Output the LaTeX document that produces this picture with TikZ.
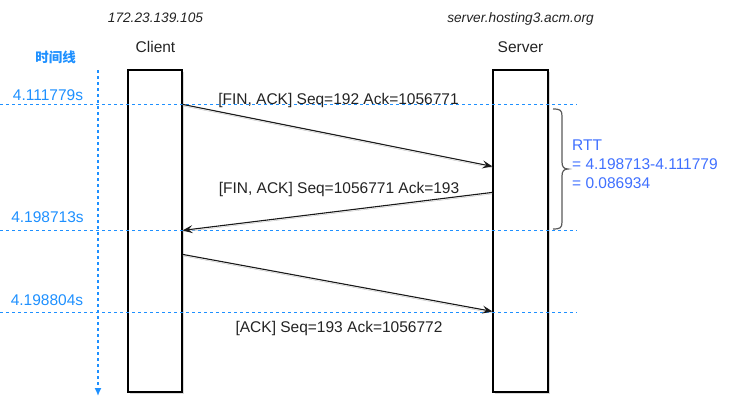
\documentclass[tikz,border=0pt]{standalone}
\usepackage{fontspec}
\setmainfont{Liberation Sans}
\newfontfamily\cjk{Noto Sans CJK SC}
\usetikzlibrary{arrows.meta,shadows}
\definecolor{tblue}{RGB}{30,144,255}
\definecolor{rttblue}{RGB}{64,112,255}
\definecolor{txt}{RGB}{35,35,35}
\begin{document}
\begin{tikzpicture}[x=1pt,y=-1pt,
  font=\fontsize{15.5}{19}\selectfont,
  lifebox/.style={draw=black, line width=1.2pt, fill=white, minimum width=54pt, minimum height=322pt, inner sep=0pt,
    drop shadow={opacity=0.3,shadow xshift=2pt,shadow yshift=-2pt}},
  msg/.style={line width=1.1pt, draw=black!90, -{Stealth[length=10pt,width=8pt,inset=4pt]},
    preaction={draw=black!25,-,transform canvas={yshift=-1.5pt}}},
  tline/.style={draw=tblue, line width=1pt, dash pattern=on 3pt off 3pt},
  lbl/.style={anchor=base, text=txt, inner sep=0pt},
  tlbl/.style={anchor=base, text=tblue, inner sep=0pt},
  rlbl/.style={anchor=base west, text=rttblue, inner sep=0pt},
  host/.style={anchor=base, text=txt, inner sep=0pt, font=\fontsize{13.7}{16}\selectfont\itshape}]
\useasboundingbox (0,0) rectangle (749,408);

% lifeline boxes
\node[lifebox] (client) at (155,231) {};
\node[lifebox, minimum width=55pt] (server) at (520.5,231) {};

% headings
\node[host] (cip) at (155.5,22) {172.23.139.105};
\node[lbl] (cname) at (155.5,52) {Client};
\node[host] (sip) at (520.5,22) {server.hosting3.acm.org};
\node[lbl] (sname) at (520.5,52) {Server};

% time axis
\node[anchor=center, text=tblue, inner sep=0pt, font=\fontsize{13.5}{16}\cjk\bfseries] (tl) at (55.5,57) {时间线};
\coordinate (ta) at (98,70);
\coordinate (tb) at (98,396);
\draw[tblue, line width=1.5pt, dash pattern=on 3pt off 3pt, -{Latex[length=8pt,width=7pt]}] (ta) -- (tb);

% time lines
\coordinate (l1a) at (0,104.5); \coordinate (l1b) at (577,104.5);
\coordinate (l2a) at (0,230.5); \coordinate (l2b) at (577,230.5);
\coordinate (l3a) at (0,312.5); \coordinate (l3b) at (577,312.5);
\draw[tline] (l1a) -- (l1b);
\draw[tline] (l2a) -- (l2b);
\draw[tline] (l3a) -- (l3b);
\node[tlbl] (t1) at (48,100) {4.111779s};
\node[tlbl] (t2) at (47.5,222) {4.198713s};
\node[tlbl] (t3) at (47,305) {4.198804s};

% messages
\draw[msg] ([yshift=-35pt]client.north east) -- ([yshift=-97pt]server.north west);
\draw[msg] ([yshift=-123pt]server.north west) -- ([yshift=-161pt]client.north east);
\draw[msg] ([yshift=-185pt]client.north east) -- ([yshift=-242pt]server.north west);
\node[lbl] (m1) at (338.5,104) {[FIN, ACK] Seq=192 Ack=1056771};
\node[lbl] (m2) at (339,193) {[FIN, ACK] Seq=1056771 Ack=193};
\node[lbl] (m3) at (339,332) {[ACK] Seq=193 Ack=1056772};

% brace
\draw[black!65, line width=1.2pt] (553,109) .. controls (560,109) and (562,110) .. (562,116) -- (562,162)
  .. controls (562,167) and (564,169) .. (568,169) .. controls (564,169) and (562,171) .. (562,176)
  -- (562,222) .. controls (562,228) and (560,229) .. (553,229);
\node[rlbl] (r1) at (572,150) {RTT};
\node[rlbl] (r2) at (572,169) {= 4.198713-4.111779};
\node[rlbl] (r3) at (572,188) {= 0.086934};
\end{tikzpicture}
\end{document}
